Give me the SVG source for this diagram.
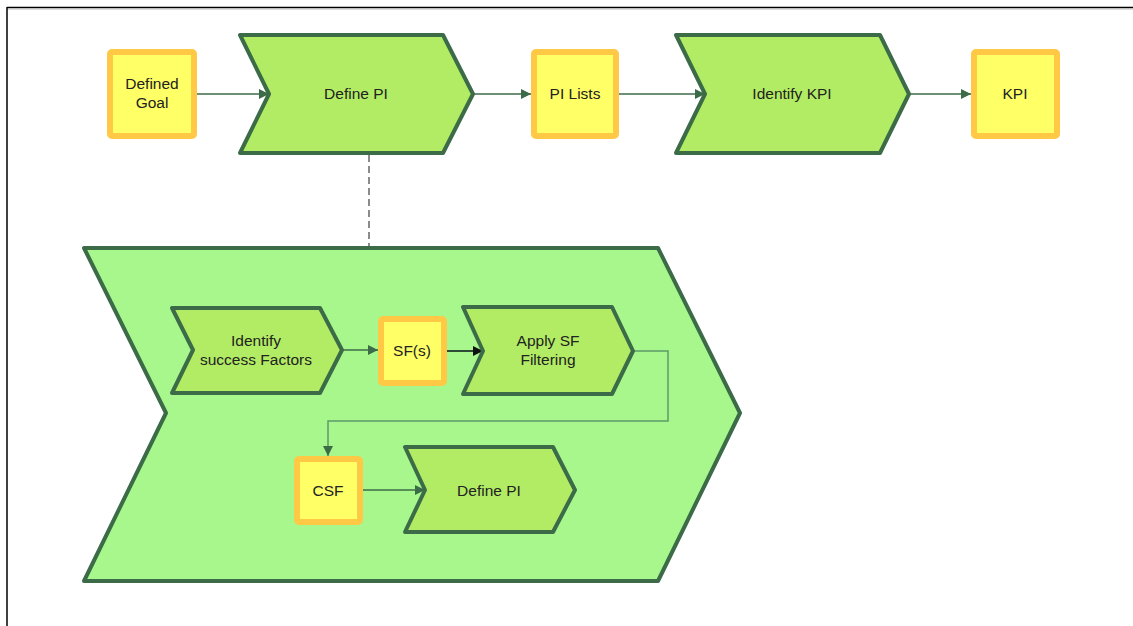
<svg xmlns="http://www.w3.org/2000/svg" width="1133" height="626" viewBox="0 0 1133 626">
<defs>
<style>
.box{fill:#FFFF66;stroke:#FFC845;stroke-width:6;stroke-linejoin:round}
.chev{fill:#B2EC64;stroke:#3C6B48;stroke-width:4;stroke-linejoin:round}
.big{fill:#A8F78D;stroke:#3C6B48;stroke-width:4;stroke-linejoin:round}
.t{font-family:"Liberation Sans",Arial,sans-serif;font-size:15.5px;fill:#222;text-anchor:middle}
.c{fill:none;stroke:#3C6B48;stroke-width:1.4}
</style>
<marker id="ah" viewBox="0 0 10 10" refX="10" refY="5" markerWidth="11" markerHeight="10" markerUnits="userSpaceOnUse" orient="auto">
<path d="M0,0 L10,5 L0,10 Z" fill="#3C6B48"/>
</marker>
<marker id="ahk" viewBox="0 0 10 10" refX="10" refY="5" markerWidth="11" markerHeight="10" markerUnits="userSpaceOnUse" orient="auto">
<path d="M0,0 L10,5 L0,10 Z" fill="#111"/>
</marker>
</defs>
<rect width="1133" height="626" fill="#fff"/>
<g id="frame">
<line x1="7" y1="7.5" x2="1133" y2="7.5" stroke="#000" stroke-width="1.5"/>
<line x1="7" y1="9" x2="1133" y2="9" stroke="#bbb" stroke-width="1"/>
<line x1="7" y1="7" x2="7" y2="626" stroke="#000" stroke-width="1.5"/>
</g>
<g id="subprocess">
<polygon class="big" points="84,248 658,248 740,413 658,581 84,581 166,413"/>
</g>
<g id="connectors">
<line class="c" x1="194" y1="94" x2="269" y2="94" marker-end="url(#ah)"/>
<line class="c" x1="473" y1="94" x2="531" y2="94" marker-end="url(#ah)"/>
<line class="c" x1="619" y1="94" x2="705" y2="94" marker-end="url(#ah)"/>
<line class="c" x1="909" y1="94" x2="971" y2="94" marker-end="url(#ah)"/>
<line x1="369" y1="155" x2="369" y2="246" stroke="#666" stroke-width="1.5" stroke-dasharray="7,4"/>
<line class="c" x1="342" y1="350" x2="378" y2="350" marker-end="url(#ah)"/>
<line x1="447" y1="351" x2="483" y2="351" stroke="#2C4A34" stroke-width="2" marker-end="url(#ahk)"/>
<polyline points="633,351 668,351 668,421 328,421 328,456" fill="none" stroke="#5C9A6A" stroke-width="1.5" marker-end="url(#ah)"/>
<line class="c" x1="363" y1="490" x2="425" y2="490" marker-end="url(#ah)"/>
</g>
<g id="defined-goal">
<rect class="box" x="110" y="52" width="84" height="84" rx="2"/>
<text class="t" x="152" y="89">Defined</text>
<text class="t" x="152" y="108">Goal</text>
</g>
<g id="define-pi">
<polygon class="chev" points="240,35 443,35 473,94 443,153 240,153 269,94"/>
<text class="t" x="356" y="99">Define PI</text>
</g>
<g id="pi-lists">
<rect class="box" x="534" y="52" width="82" height="84" rx="2"/>
<text class="t" x="575" y="99">PI Lists</text>
</g>
<g id="identify-kpi">
<polygon class="chev" points="676,35 880,35 909,94 880,153 676,153 705,94"/>
<text class="t" x="792" y="99">Identify KPI</text>
</g>
<g id="kpi">
<rect class="box" x="974" y="52" width="83" height="84" rx="2"/>
<text class="t" x="1015" y="99">KPI</text>
</g>
<g id="identify-sf">
<polygon class="chev" points="172,308 320,308 342,350 320,393 172,393 193,350"/>
<text class="t" x="256" y="346">Identify</text>
<text class="t" x="256" y="365">success Factors</text>
</g>
<g id="sfs">
<rect class="box" x="381" y="319" width="63" height="64" rx="2"/>
<text class="t" x="412" y="356">SF(s)</text>
</g>
<g id="apply-sf">
<polygon class="chev" points="463,307 612,307 633,351 612,394 463,394 483,351"/>
<text class="t" x="548" y="346">Apply SF</text>
<text class="t" x="548" y="365">Filtering</text>
</g>
<g id="csf">
<rect class="box" x="297" y="459" width="63" height="63" rx="2"/>
<text class="t" x="328" y="496">CSF</text>
</g>
<g id="define-pi-2">
<polygon class="chev" points="405,447 553,447 575,490 553,532 405,532 425,490"/>
<text class="t" x="489" y="496">Define PI</text>
</g>
</svg>
